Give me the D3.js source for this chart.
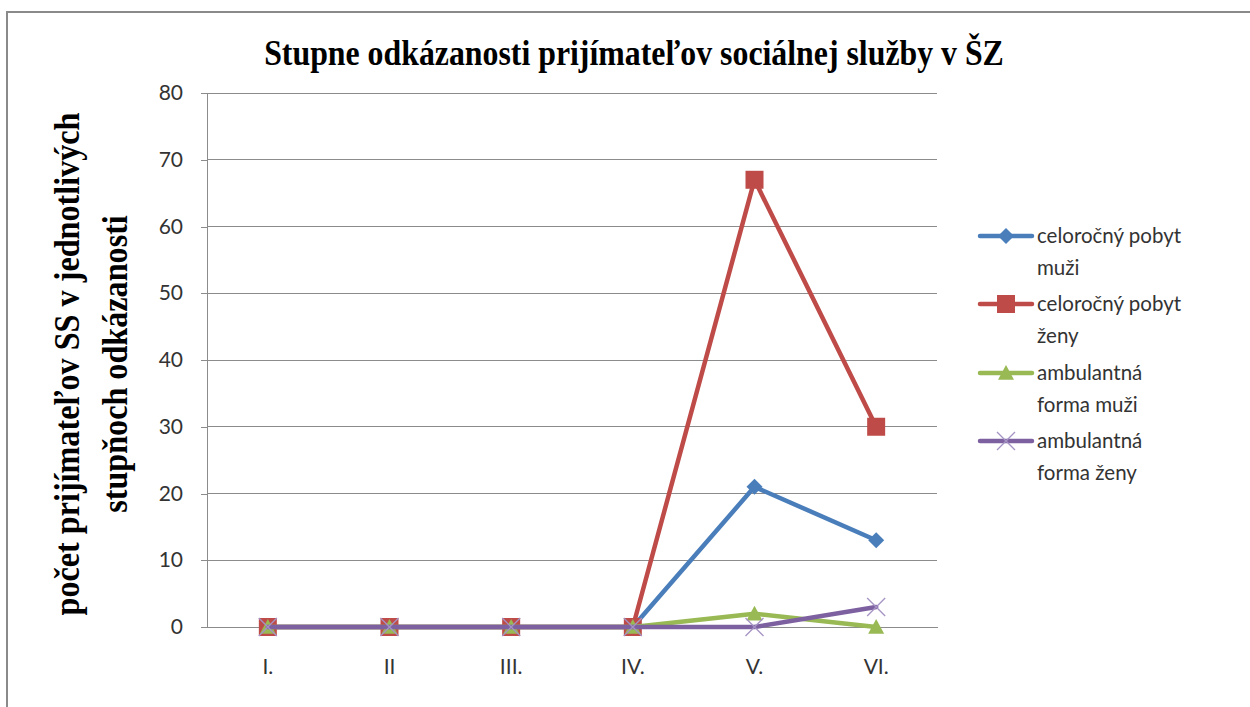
<!DOCTYPE html>
<html><head><meta charset="utf-8">
<script src="https://cdn.jsdelivr.net/npm/d3@7"></script>
<style>body{margin:0;background:#fff;} svg{display:block;}</style>
</head><body>
<svg id="c" width="1250" height="707"></svg>
<script>
const categories = ["I.", "II", "III.", "IV.", "V.", "VI."];
const seriesNames = [["celoročný pobyt", "muži"], ["celoročný pobyt", "ženy"], ["ambulantná", "forma muži"], ["ambulantná", "forma ženy"]];
const celorocnyMuzi = [0, 0, 0, 0, 21, 13];
const celorocnyZeny = [0, 0, 0, 0, 67, 30];
const ambulantnaMuzi = [0, 0, 0, 0, 2, 0];
const ambulantnaZeny = [0, 0, 0, 0, 0, 3];
const yTicks = [0, 10, 20, 30, 40, 50, 60, 70, 80];
const title = "Stupne odkázanosti prijímateľov sociálnej služby v ŠZ";
const yTitle = ["počet prijímateľov SS v jednotlivých", "stupňoch odkázanosti"];

const colors = ["#4A7EBB", "#BE4B48", "#98B954", "#7D60A0"];
const markers = ["diamond", "square", "triangle", "x"];
const series = [celorocnyMuzi, celorocnyZeny, ambulantnaMuzi, ambulantnaZeny];

const svg = d3.select("#c");
// outer border
svg.append("rect").attr("x", 7).attr("y", 12).attr("width", 1300).attr("height", 760)
  .attr("fill", "#fff").attr("stroke", "#8a8a8a").attr("stroke-width", 2);

const L = 207, R = 937, T = 93, B = 627;
const x = d3.scaleBand().domain(categories).range([L, R]);
const y = d3.scaleLinear().domain([0, 80]).range([B, T]);

// gridlines
svg.append("g").selectAll("line").data(yTicks).join("line")
  .attr("x1", L).attr("x2", R).attr("y1", d => y(d)).attr("y2", d => y(d))
  .attr("stroke", "#8c8c8c").attr("stroke-width", 1).attr("shape-rendering", "crispEdges");

// y axis
const ya = svg.append("g").attr("transform", `translate(${L},0)`)
  .call(d3.axisLeft(y).tickValues(yTicks).tickSize(6).tickPadding(18));
ya.select(".domain").attr("stroke", "#8c8c8c").attr("shape-rendering", "crispEdges");
ya.selectAll(".tick line").attr("stroke", "#8c8c8c").attr("shape-rendering", "crispEdges");
ya.selectAll("text").attr("font-family", "Lato, 'Open Sans', sans-serif").attr("font-size", 21).attr("fill", "#333");

// x axis
const xa = svg.append("g").attr("transform", `translate(0,${B})`)
  .call(d3.axisBottom(x).tickSize(0).tickPadding(32));
xa.select(".domain").attr("stroke", "#8c8c8c").attr("shape-rendering", "crispEdges");
xa.selectAll("text").attr("font-family", "Lato, 'Open Sans', sans-serif").attr("font-size", 21).attr("fill", "#333");

// title
const tt = svg.append("text").attr("x", 0).attr("y", 0)
  .attr("font-family", "'Liberation Serif', 'Times New Roman', serif").attr("font-weight", "bold")
  .attr("font-size", 35).attr("text-anchor", "middle").attr("fill", "#000").text(title);
{ const s = 740 / tt.node().getComputedTextLength();
  tt.attr("transform", `translate(634,65) scale(${s},1)`); }

// y title
const yt = yTitle.map(t => svg.append("text").attr("x", 0).attr("y", 0)
    .attr("font-family", "'Liberation Serif', 'Times New Roman', serif").attr("font-weight", "bold")
    .attr("font-size", 35).attr("text-anchor", "middle").attr("fill", "#000").text(t));
{ const s = 503 / yt[0].node().getComputedTextLength();
  yt[0].attr("transform", `translate(79,364) rotate(-90) scale(${s},1)`);
  yt[1].attr("transform", `translate(127,364) rotate(-90) scale(${s},1)`); }

function markerPath(type, size) {
  const h = size / 2;
  if (type === "diamond") return `M0,${-h}L${h},0L0,${h}L${-h},0Z`;
  if (type === "square") return `M${-h},${-h}H${h}V${h}H${-h}Z`;
  if (type === "triangle") return `M0,${-h}L${h},${h*0.85}L${-h},${h*0.85}Z`;
  return `M${-h},${-h}L${h},${h}M${h},${-h}L${-h},${h}`;
}
const msize = [16, 18, 16, 18];

function drawMarker(g, i, cx, cy) {
  const p = g.append("path").attr("d", markerPath(markers[i], msize[i]))
    .attr("transform", `translate(${cx},${cy})`);
  if (markers[i] === "x") p.attr("fill", "none").attr("stroke", "#a593c4").attr("stroke-width", 1.3);
  else p.attr("fill", colors[i]).attr("stroke", "none");
}

const line = d3.line().x((d, j) => x(categories[j]) + x.bandwidth() / 2).y(d => y(d));
series.forEach((s, i) => {
  const g = svg.append("g");
  g.append("path").attr("d", line(s)).attr("fill", "none").attr("stroke", colors[i])
    .attr("stroke-width", 4.5).attr("stroke-linejoin", "round").attr("stroke-linecap", "round");
  s.forEach((v, j) => drawMarker(g, i, x(categories[j]) + x.bandwidth() / 2, y(v)));
});

// legend
const legY = [236, 304, 373, 441];
seriesNames.forEach((nm, i) => {
  const g = svg.append("g");
  g.append("line").attr("x1", 980).attr("x2", 1032).attr("y1", legY[i]).attr("y2", legY[i])
    .attr("stroke", colors[i]).attr("stroke-width", 4.5).attr("stroke-linecap", "round");
  drawMarker(g, i, 1006, legY[i]);
  nm.forEach((t, k) => {
    g.append("text").attr("x", 1037).attr("y", legY[i] + 7 + k * 32)
      .attr("font-family", "Lato, 'Open Sans', sans-serif").attr("font-size", 20.5).attr("fill", "#333").text(t);
  });
});
</script>
</body></html>
